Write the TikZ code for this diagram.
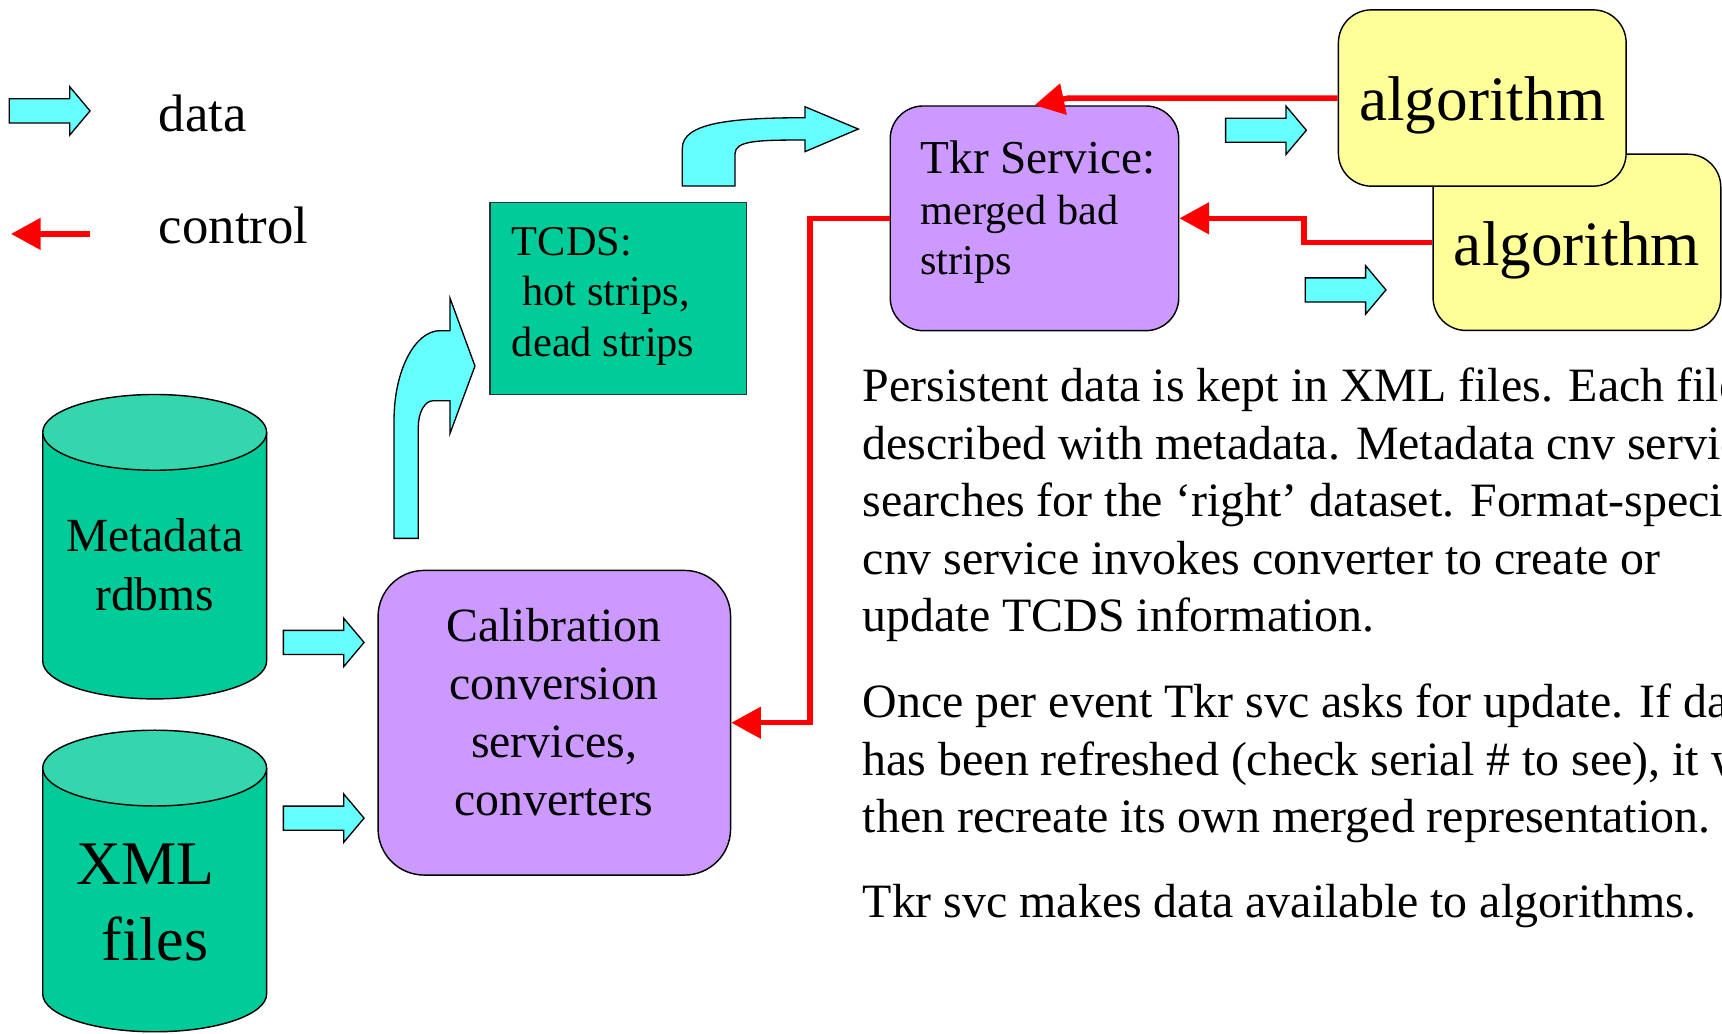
\documentclass[tikz,border=0pt]{standalone}
\usepackage{fontspec}
\setmainfont{Liberation Serif}
\usetikzlibrary{arrows.meta}
\definecolor{cyanf}{HTML}{66FFFF}
\definecolor{tealA}{HTML}{00CC99}
\definecolor{tealB}{HTML}{33D6AD}
\definecolor{lilac}{HTML}{CC99FF}
\definecolor{lemon}{HTML}{FFFF99}
\definecolor{ctrlred}{HTML}{FF0000}
\newcommand\mycyl[2]{%
  \fill[tealA] (38.9,#1) -- (38.9,#2) arc[start angle=180,end angle=0,x radius=101.95,y radius=34.5] -- (242.8,#1) -- cycle;
  \draw[boxline] (38.9,#1) -- (38.9,#2) arc[start angle=180,end angle=0,x radius=101.95,y radius=34.5] -- (242.8,#1);
  \draw[boxline,fill=tealB] (140.85,#1) ellipse[x radius=101.95,y radius=34.5];}
\begin{document}
\begin{tikzpicture}[x=1pt,y=-1pt,
  boxline/.style={draw=black,line width=1.3pt},
  datashape/.style={fill=cyanf,draw=black,line width=1.2pt,line join=miter},
  dataarrow/.pic={\draw[datashape] (0,-11) -- (55,-11) -- (55,-22) -- (73.5,0) -- (55,22) -- (55,11) -- (0,11) -- cycle;},
  ctrlarrow/.style={draw=ctrlred,line width=5pt,-{Triangle[length=27pt,width=28pt]}},
  roundbox/.style={boxline,inner sep=0pt},
  algbox/.style={roundbox,fill=lemon,rounded corners=30pt,minimum width=262pt,minimum height=160.5pt,
    font=\fontsize{57.6pt}{60pt}\selectfont,text height=54pt,text depth=12.5pt},
  lbl/.style={inner sep=0pt}]
\useasboundingbox (0,0) rectangle (1568,941);
\begin{scope}
\clip (0,0) rectangle (1568,941);

% legend
\pic at (8.5,101) {dataarrow};
\node[lbl,anchor=base west,font=\fontsize{48pt}{56pt}\selectfont] (ldata) at (144.5,120) {data};
\coordinate (lc1) at (82,213);
\coordinate (lc2) at (10,213);
\draw[ctrlarrow] (lc1) -- (lc2);
\node[lbl,anchor=base west,font=\fontsize{48pt}{56pt}\selectfont] (lctrl) at (144.5,222) {control};

% cylinders
\mycyl{393.7}{601.9}
\mycyl{699.4}{905}
\node[lbl,anchor=base,align=center,font=\fontsize{43.3pt}{53.2pt}\selectfont] (meta) at (140.85,555.8) {Metadata\\rdbms};
\node[lbl,anchor=base,align=center,font=\fontsize{56.5pt}{70pt}\selectfont] (xml) at (141,875) {XML\hspace*{17pt}\\files};

% data arrows into calibration
\pic at (258,585) {dataarrow};
\pic at (258,745) {dataarrow};

% calibration box
\node[roundbox,fill=lilac,rounded corners=42pt,minimum width=321pt,minimum height=277.4pt] (cal) at (504.75,658.1) {};
\node[lbl,anchor=base,align=center,font=\fontsize{43.5pt}{52.7pt}\selectfont] (caltext) at (504.5,742.5) {Calibration\\conversion\\services,\\converters};

% curved arrow up to TCDS
\draw[datashape] (358.8,490.2) -- (358.8,382.4) .. controls (358.8,337.8) and (377.6,301.1) .. (400.7,301.1)
  -- (409.8,301.1) -- (409.8,271.6) -- (432.5,333.3) -- (409.8,394.6) -- (409.8,364.9) -- (394.3,364.9)
  .. controls (386.9,364.9) and (380.9,375.5) .. (380.9,388.5) -- (380.9,490.2) -- cycle;

% TCDS box
\node[boxline,draw=black!80,fill=tealA,minimum width=233.7pt,minimum height=174.8pt,inner sep=0pt] (tcds) at (563.05,271.6) {};
\node[lbl,anchor=base west,align=left,font=\fontsize{38.6pt}{46.3pt}\selectfont] (tcdstext) at (466,324.8) {TCDS:\\\hspace*{9.6pt}hot strips,\\dead strips};

% curved arrow from TCDS to Tkr
\draw[datashape] (621.3,169.4) -- (621.3,135) .. controls (621.3,112) and (665,107.2) .. (733,107.2)
  -- (733,97.2) -- (781.5,117.5) -- (733,138.1) -- (733,127.5)
  .. controls (690,127.5) and (669.3,128) .. (669.3,140) -- (669.3,169.4) -- cycle;

% Tkr service box
\node[roundbox,fill=lilac,rounded corners=30pt,minimum width=262.7pt,minimum height=204.6pt] (tkr) at (941.95,198.8) {};
\node[lbl,anchor=base west,align=left,font=\fontsize{38.5pt}{46pt}\selectfont] (tkrtext) at (838,250.4) {{\fontsize{43pt}{46pt}\selectfont Tkr Service:}\\merged bad\\strips};

% algorithm boxes
\node[algbox] (alg2) at (1435.9,220.65) {algorithm};
\node[algbox] (alg1) at (1349.7,89.25) {algorithm};

% data arrows to algorithms
\pic at (1116,118.6) {dataarrow};
\pic at (1188.5,264) {dataarrow};

% control connectors
\draw[ctrlarrow] (alg1.west) -- ++(-245,0) -- (tkr.north);
\draw[ctrlarrow] (alg2.west) -- ++(-116.8,0) |- (tkr.east);
\draw[ctrlarrow] (tkr.west) -- ++(-72.6,0) |- (cal.east);

% explanatory text
\node[lbl,anchor=base west,align=left,font=\fontsize{43.6pt}{52.3pt}\selectfont] (para1) at (785.4,575)
 {Persistent data is kept in XML files. Each file\\described with metadata. Metadata cnv service\\searches for the `right' dataset. Format-specific\\cnv service invokes converter to create or\\update TCDS information.};
\node[lbl,anchor=base west,align=left,font=\fontsize{43.6pt}{52.3pt}\selectfont] (para2) at (785.4,758)
 {Once per event Tkr svc asks for update. If data\\has been refreshed (check serial \# to see), it will\\then recreate its own merged representation.};
\node[lbl,anchor=base west,align=left,font=\fontsize{43.6pt}{52.3pt}\selectfont] (para3) at (785.4,835)
 {Tkr svc makes data available to algorithms.};
\end{scope}
\end{tikzpicture}
\end{document}
